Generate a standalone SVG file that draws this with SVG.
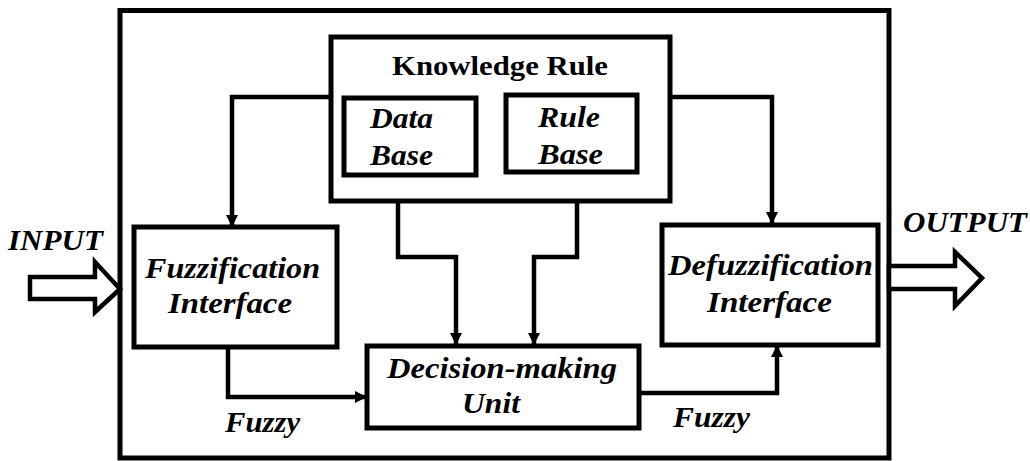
<svg xmlns="http://www.w3.org/2000/svg" width="1030" height="461" viewBox="0 0 1030 461">
<style>
.box{fill:#fff;stroke:#000;stroke-width:5}
.ln{fill:none;stroke:#000;stroke-width:4.5}
.t{font-family:"Liberation Serif","Times New Roman",serif;font-weight:bold;font-style:italic;font-size:30px;fill:#000}
.k{font-family:"Liberation Serif","Times New Roman",serif;font-weight:bold;font-size:27px;fill:#000}
.big{fill:#fff;stroke:#000;stroke-width:4.5;stroke-linejoin:miter}
</style>
<defs>
<marker id="ah" markerWidth="12" markerHeight="12" viewBox="0 0 12 12" refX="11" refY="6" orient="auto" markerUnits="userSpaceOnUse">
<path d="M0,0 L12,6 L0,12 Z" fill="#000"/>
</marker>
</defs>
<rect width="1030" height="461" fill="#fff"/>
<g id="frame"><rect x="120" y="10.5" width="769" height="447.5" class="box"/></g>
<g id="input">
<polygon class="big" points="30,277 95,277 95,262 120,289 95,312 95,299 30,299"/>
<text class="t" x="8" y="250" font-size="27" textLength="95" lengthAdjust="spacingAndGlyphs">INPUT</text>
</g>
<g id="output">
<polygon class="big" points="889,266 955,266 955,252 982,278 955,306 955,289 889,289"/>
<text class="t" x="903" y="232" font-size="27" textLength="124" lengthAdjust="spacingAndGlyphs">OUTPUT</text>
</g>
<g id="connectors">
<polyline class="ln" points="331,97 232,97 232,226" marker-end="url(#ah)"/>
<polyline class="ln" points="670,97 772,97 772,223" marker-end="url(#ah)"/>
<polyline class="ln" points="398,175 398,257 456,257 456,344" marker-end="url(#ah)"/>
<polyline class="ln" points="577,172 577,257 534,257 534,344" marker-end="url(#ah)"/>
<polyline class="ln" points="228,347 228,397 366,397" marker-end="url(#ah)"/>
<polyline class="ln" points="639,393 777,393 777,346" marker-end="url(#ah)"/>
</g>
<g id="knowledge">
<rect x="331" y="37" width="339" height="164" class="box"/>
<text class="k" x="392" y="75" textLength="216" lengthAdjust="spacingAndGlyphs">Knowledge Rule</text>
</g>
<g id="database">
<rect x="344" y="98" width="132" height="77" class="box"/>
<text class="t" x="370" y="128" textLength="63" lengthAdjust="spacingAndGlyphs">Data</text>
<text class="t" x="370" y="165" textLength="63" lengthAdjust="spacingAndGlyphs">Base</text>
</g>
<g id="rulebase">
<rect x="506" y="95" width="131" height="77" class="box"/>
<text class="t" x="538" y="127" textLength="62" lengthAdjust="spacingAndGlyphs">Rule</text>
<text class="t" x="538" y="164" textLength="65" lengthAdjust="spacingAndGlyphs">Base</text>
</g>
<g id="fuzzification">
<rect x="134" y="227" width="203" height="120" class="box"/>
<text class="t" x="145" y="278" textLength="175" lengthAdjust="spacingAndGlyphs">Fuzzification</text>
<text class="t" x="168" y="313" textLength="124" lengthAdjust="spacingAndGlyphs">Interface</text>
</g>
<g id="defuzzification">
<rect x="662" y="225" width="216" height="120" class="box"/>
<text class="t" x="668" y="275" textLength="205" lengthAdjust="spacingAndGlyphs">Defuzzification</text>
<text class="t" x="707" y="312" textLength="125" lengthAdjust="spacingAndGlyphs">Interface</text>
</g>
<g id="decision">
<rect x="367" y="346" width="272" height="82" class="box"/>
<text class="t" x="387" y="378" textLength="230" lengthAdjust="spacingAndGlyphs">Decision-making</text>
<text class="t" x="462" y="413" textLength="58" lengthAdjust="spacingAndGlyphs">Unit</text>
</g>
<g id="labels">
<text class="t" x="225" y="432" font-size="27" textLength="75" lengthAdjust="spacingAndGlyphs">Fuzzy</text>
<text class="t" x="673" y="427" font-size="27" textLength="77" lengthAdjust="spacingAndGlyphs">Fuzzy</text>
</g>
</svg>
